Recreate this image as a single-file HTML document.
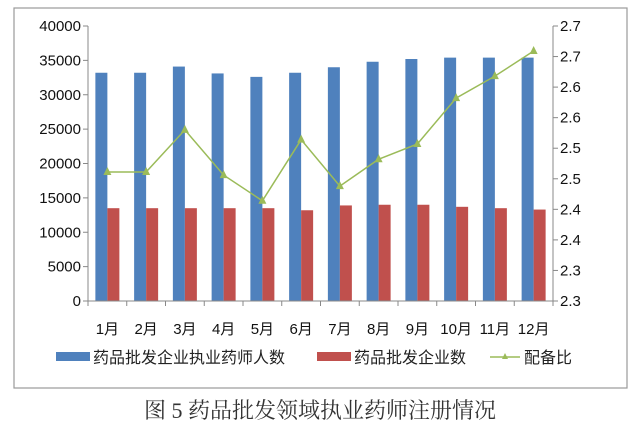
<!DOCTYPE html>
<html><head><meta charset="utf-8"><style>
body{margin:0;background:#fff;width:640px;height:431px;overflow:hidden}
svg text{font-family:"Liberation Sans","Noto Sans CJK SC",sans-serif}
</style></head><body>
<svg width="640" height="431">
<rect x="14" y="8" width="613" height="380" fill="#fff" stroke="#9a9a9a" stroke-width="1.2"/>
<g id="plot"></g>
<text x="320" y="418" text-anchor="middle" font-size="22" fill="#333" style="font-family:'Liberation Serif','Noto Serif CJK SC',serif">图 5 药品批发领域执业药师注册情况</text>
</svg>
<script>
const categories=["1月","2月","3月","4月","5月","6月","7月","8月","9月","10月","11月","12月"];
const pharmacists=[33200,33200,34100,33100,32600,33200,34000,34800,35200,35400,35400,35400];
const companies=[13500,13500,13500,13500,13500,13200,13900,14000,14000,13700,13500,13300];
const ratio=[2.461,2.461,2.530,2.456,2.414,2.514,2.438,2.482,2.507,2.582,2.618,2.659];
const leftTicks=[0,5000,10000,15000,20000,25000,30000,35000,40000];
const rightTicks=[2.25,2.30,2.35,2.40,2.45,2.50,2.55,2.60,2.65,2.70];
const rightLabels=["2.3","2.3","2.4","2.4","2.5","2.5","2.6","2.6","2.7","2.7"];
const L=88,R=553,T=26,B=301;
const yL=v=>B-(v/40000)*(B-T);
const yR=v=>B-((v-2.25)/0.45)*(B-T);
const cw=(R-L)/categories.length;
const xc=i=>L+cw*(i+0.5);
const g=document.getElementById('plot');
const NS="http://www.w3.org/2000/svg";
function mk(t,a){const e=document.createElementNS(NS,t);for(const k in a)e.setAttribute(k,a[k]);g.appendChild(e);return e;}
categories.forEach((c,i)=>{
 let b=mk('rect',{x:xc(i)-12,y:yL(pharmacists[i]),width:12,height:B-yL(pharmacists[i]),fill:'#4f81bd'});
 
 
 let r=mk('rect',{x:xc(i),y:yL(companies[i]),width:12,height:B-yL(companies[i]),fill:'#c0504d'});
 
 
 let t=mk('text',{x:xc(i),y:334,'text-anchor':'middle','font-size':15,fill:'#111'});
 t.textContent=c;
 
 
});
let ax=mk('line',{x1:L,y1:T,x2:L,y2:B,stroke:'#888'});


let ax2=mk('line',{x1:R,y1:T,x2:R,y2:B,stroke:'#888'});


let ax3=mk('line',{x1:L,y1:B,x2:R,y2:B,stroke:'#888'});


for(let i=0;i<=categories.length;i++){mk('line',{x1:L+cw*i,y1:B,x2:L+cw*i,y2:B+5,stroke:'#888'});}
leftTicks.forEach(v=>{
 mk('line',{x1:L-5,y1:yL(v),x2:L,y2:yL(v),stroke:'#888'});
 let t=mk('text',{x:81,y:yL(v)+5,'text-anchor':'end','font-size':15,fill:'#111'});
 t.textContent=v;
 
 
});
rightTicks.forEach((v,i)=>{
 mk('line',{x1:R,y1:yR(v),x2:R+5,y2:yR(v),stroke:'#888'});
 let t=mk('text',{x:560,y:yR(v)+5,'font-size':15,fill:'#111'});
 t.textContent=rightLabels[i];
 
 
});
let pl=mk('polyline',{points:ratio.map((v,i)=>xc(i)+','+yR(v)).join(' '),fill:'none',stroke:'#9bbb59','stroke-width':1.5});


ratio.forEach((v,i)=>{
 let x=xc(i),y=yR(v);
 let p=mk('polygon',{points:`${x},${y-5} ${x-4},${y+3} ${x+4},${y+3}`,fill:'#9bbb59'});
 
 
});
let l1=mk('rect',{x:56,y:352,width:34,height:9,fill:'#4f81bd'});


let lt1=mk('text',{x:93,y:363,'font-size':16,fill:'#222'});
lt1.textContent='药品批发企业执业药师人数';


let l2=mk('rect',{x:317,y:352,width:34,height:9,fill:'#c0504d'});


let lt2=mk('text',{x:354,y:363,'font-size':16,fill:'#222'});
lt2.textContent='药品批发企业数';


let l3=mk('line',{x1:490,y1:357,x2:520,y2:357,stroke:'#9bbb59','stroke-width':1.5});


mk('polygon',{points:'505,353 502,359 508,359',fill:'#9bbb59'});
let lt3=mk('text',{x:524,y:363,'font-size':16,fill:'#222'});
lt3.textContent='配备比';


</script>
</body></html>
